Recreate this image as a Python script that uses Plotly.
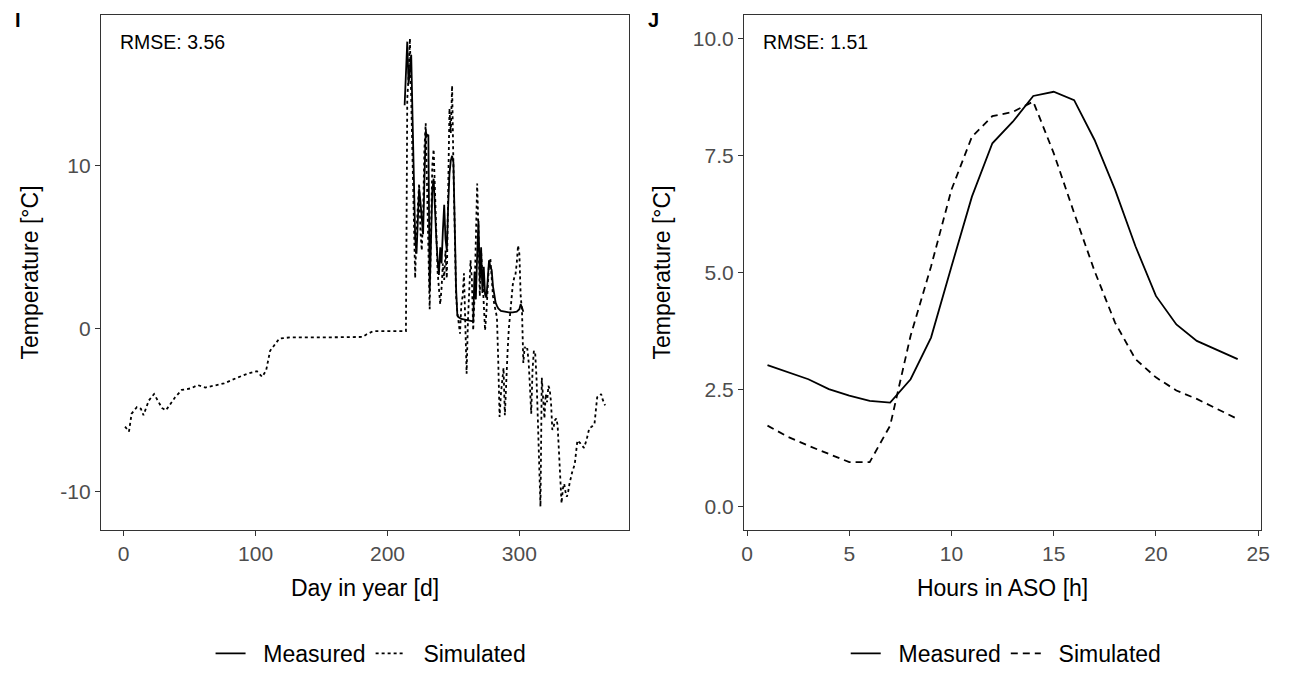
#%%
import plotly.graph_objects as go

# %% panel I - daily values
meas_day_I = [213, 214, 215, 216, 217, 218, 219, 220, 221, 222, 223, 224, 225, 226, 227, 228,
              229, 230, 231, 232, 233, 234, 235, 236, 237, 238, 239, 240, 241, 242, 243, 244,
              245, 246, 247, 248, 249, 250, 251, 252, 253, 254, 256, 259, 262, 265, 266, 267,
              268, 269, 270, 271, 272, 273, 274, 275, 276, 277, 278, 279, 280, 281, 282, 283,
              284, 286, 289, 292, 295, 298, 300, 301, 302, 303]
meas_temp_I = [13.7, 16.0, 17.6, 15.0, 16.2, 16.8, 13.0, 9.0, 5.6, 4.6, 7.0, 8.6, 7.8, 6.5, 5.8, 9.0,
               12.1, 11.8, 11.9, 2.3, 6.0, 8.5, 9.2, 7.0, 5.6, 4.2, 3.3, 5.0, 4.0, 6.0, 7.6, 5.5,
               4.8, 7.5, 9.5, 10.3, 10.6, 10.2, 6.0, 2.5, 0.8, 0.7, 0.6, 0.55, 0.5, 0.45, 3.5, 1.8,
               4.5, 6.6, 3.0, 5.0, 2.2, 3.8, 2.1, 1.9, 3.0, 4.2, 3.8, 3.6, 2.6, 2.0, 1.6, 1.4,
               1.25, 1.1, 1.05, 1.0, 1.0, 1.05, 1.2, 1.5, 1.3, 1.05]

sim_day_I = [1, 4, 6, 10, 13, 15, 19, 23, 29, 32, 39, 44, 51, 56, 62, 76, 86, 94, 101, 105, 108,
             111, 118, 126, 150, 181, 184, 189, 200, 214,
             215, 216, 217, 218, 219, 220, 221, 222, 223, 224, 225, 226, 227, 228, 229, 230, 231,
             232, 233, 234, 235, 236, 237, 238, 239, 240, 241, 242, 243, 244, 245, 246, 247, 248,
             249, 250, 251, 252, 253, 254, 255, 256, 257, 258, 259, 260, 261, 262, 263, 264, 265,
             266, 267, 268, 269, 270, 271, 272, 273, 274, 275, 276, 277, 278, 279, 280, 281, 282,
             283, 284, 285, 286, 287, 288, 289, 290, 291, 292, 293, 294, 295, 296, 297, 298, 299,
             300, 301, 302, 303, 304, 305, 306, 307, 308, 309, 310, 311, 312, 313, 314, 315, 316,
             317, 318, 319, 320, 321, 322, 323, 324, 325, 326, 327, 328, 329, 330, 331, 332, 333,
             334, 335, 336, 337, 338, 340, 342, 344, 346, 349, 351, 353, 355, 357, 359, 361, 362,
             363, 365]
sim_temp_I = [-6.0, -6.3, -5.2, -4.8, -4.9, -5.3, -4.4, -4.0, -4.85, -5.0, -4.2, -3.75, -3.65, -3.45,
              -3.6, -3.35, -3.0, -2.75, -2.6, -2.95, -2.55, -1.35, -0.6, -0.53, -0.53, -0.5, -0.35,
              -0.15, -0.15, -0.15,
              14.1, 15.5, 17.8, 14.0, 9.0, 5.0, 3.1, 6.0, 7.5, 8.9, 6.0, 4.8, 7.0, 11.0, 12.6, 8.0,
              4.0, 1.2, 6.0, 10.0, 11.0, 8.0, 5.0, 3.5, 2.5, 1.5, 2.5, 4.0, 3.0, 4.8, 3.1, 8.0,
              13.5, 12.0, 14.9, 10.0, 6.0, 2.0, 1.0, 0.3, -0.3, 1.5, 2.0, 3.4, 1.0, -2.75, 0.5, 2.0,
              4.2, 3.0, -0.1, 2.0, 4.8, 8.9, 6.0, 2.0, 4.8, 3.0, 1.0, -0.1, 1.0, 2.5, 4.0, 4.3,
              3.0, 2.0, 1.5, 1.0, 0.7, -2.0, -5.4, -4.0, -3.0, -2.4, -5.3, -3.0, -1.5, 0.0, 1.0,
              2.0, 2.7, 3.1, 3.3, 4.0, 5.1, 4.6, 2.0, 1.1, -2.1, -1.1, -1.3, -1.2, -2.0, -3.5, -5.2,
              -2.5, -1.35, -1.5, -3.0, -5.5, -8.5, -10.9, -3.0, -4.0, -5.5, -4.0, -4.5, -3.5, -3.7,
              -4.5, -6.2, -6.0, -5.6, -5.5, -5.9, -7.5, -9.5, -10.7, -9.8, -9.5, -10.0, -10.3, -10.0,
              -9.5, -8.8, -8.3, -6.85, -7.0, -7.3, -6.8, -6.1, -6.0, -5.8, -4.2, -4.1, -4.0, -4.3,
              -4.7]

# %% panel J - hourly values
hour_J = list(range(1, 25))
meas_temp_J = [3.02, 2.87, 2.72, 2.51, 2.37, 2.26, 2.22, 2.72, 3.61, 5.13, 6.62, 7.76,
               8.22, 8.77, 8.86, 8.68, 7.83, 6.77, 5.56, 4.50, 3.89, 3.54, 3.35, 3.15]
sim_temp_J = [1.73, 1.49, 1.30, 1.13, 0.95, 0.95, 1.73, 3.65, 5.13, 6.77, 7.90, 8.34,
              8.43, 8.65, 7.55, 6.27, 5.03, 3.93, 3.15, 2.76, 2.48, 2.30, 2.09, 1.87]

ticks_I_y = [-10, 0, 10]
ticks_I_y_text = ['-10', '0', '10']
ticks_I_x = [0, 100, 200, 300]
ticks_J_y = [0, 2.5, 5, 7.5, 10]
ticks_J_y_text = ['0.0', '2.5', '5.0', '7.5', '10.0']
ticks_J_x = [0, 5, 10, 15, 20, 25]


def expand(lo, hi, f=0.05):
    d = (hi - lo) * f
    return [lo - d, hi + d]


FONT = 'Liberation Sans, Arial, sans-serif'
PAD = '\u00a0' * 2  # room between legend key and label, as in ggplot

#%%
fig = go.Figure()
fig.add_trace(go.Scatter(x=meas_day_I, y=meas_temp_I, mode='lines', name=PAD + 'Measured',
                         line=dict(color='black', width=1.8), xaxis='x', yaxis='y',
                         legend='legend'))
fig.add_trace(go.Scatter(x=sim_day_I, y=sim_temp_I, mode='lines', name=PAD + 'Simulated',
                         line=dict(color='black', width=1.8, dash='3px,3px'),
                         xaxis='x', yaxis='y', legend='legend'))
fig.add_trace(go.Scatter(x=hour_J, y=meas_temp_J, mode='lines', name=PAD + 'Measured',
                         line=dict(color='black', width=1.8), xaxis='x2', yaxis='y2',
                         legend='legend2'))
fig.add_trace(go.Scatter(x=hour_J, y=sim_temp_J, mode='lines', name=PAD + 'Simulated',
                         line=dict(color='black', width=1.8, dash='7px,5px'),
                         xaxis='x2', yaxis='y2', legend='legend2'))

all_I = meas_temp_I + sim_temp_I
axis_style = dict(showgrid=False, zeroline=False, showline=True, mirror=True,
                  linecolor='#333333', linewidth=1.2, ticks='outside', ticklen=5,
                  tickcolor='#333333', tickfont=dict(size=21, color='#4D4D4D'),
                  title_font=dict(size=23, color='black'))
legend_style = dict(orientation='h', yanchor='bottom', y=0.0, xanchor='center',
                    font=dict(size=23, color='black'), bgcolor='rgba(0,0,0,0)')

fig.update_layout(
    width=1290, height=675,
    margin=dict(l=0, r=0, t=0, b=0),
    paper_bgcolor='white', plot_bgcolor='white',
    font=dict(family=FONT, color='black'),
    xaxis=dict(axis_style, domain=[0.0767, 0.4899], anchor='y',
               range=expand(min(sim_day_I), max(sim_day_I)),
               tickvals=ticks_I_x, title_text='Day in year [d]'),
    yaxis=dict(axis_style, domain=[0.2148, 0.9778], anchor='x',
               range=expand(min(all_I), max(all_I)),
               tickvals=ticks_I_y, ticktext=ticks_I_y_text, title_text='Temperature [°C]'),
    xaxis2=dict(axis_style, domain=[0.5798, 0.9845], anchor='y2',
                range=expand(min(hour_J), max(hour_J)),
                tickvals=ticks_J_x, title_text='Hours in ASO [h]'),
    yaxis2=dict(axis_style, domain=[0.2148, 0.9778], anchor='x2',
                range=expand(0, 10),
                tickvals=ticks_J_y, ticktext=ticks_J_y_text, title_text='Temperature [°C]'),
    legend=dict(legend_style, x=0.288),
    legend2=dict(legend_style, x=0.785),
    annotations=[
        dict(text='RMSE: 3.56', xref='x domain', yref='y domain', x=0.032, y=0.948,
             xanchor='left', yanchor='middle', showarrow=False, font=dict(size=19.5)),
        dict(text='RMSE: 1.51', xref='x2 domain', yref='y2 domain', x=0.033, y=0.948,
             xanchor='left', yanchor='middle', showarrow=False, font=dict(size=19.5)),
        dict(text='<b>I</b>', xref='paper', yref='paper', x=0.008, y=0.970,
             xanchor='left', yanchor='middle', showarrow=False, font=dict(size=20)),
        dict(text='<b>J</b>', xref='paper', yref='paper', x=0.503, y=0.970,
             xanchor='left', yanchor='middle', showarrow=False, font=dict(size=20)),
    ],
)

# drop the default 8px page margin so the figure sits at the window corner
fig.write_html("out.html", config={'displayModeBar': False},
               post_script="document.body.style.margin='0';")
